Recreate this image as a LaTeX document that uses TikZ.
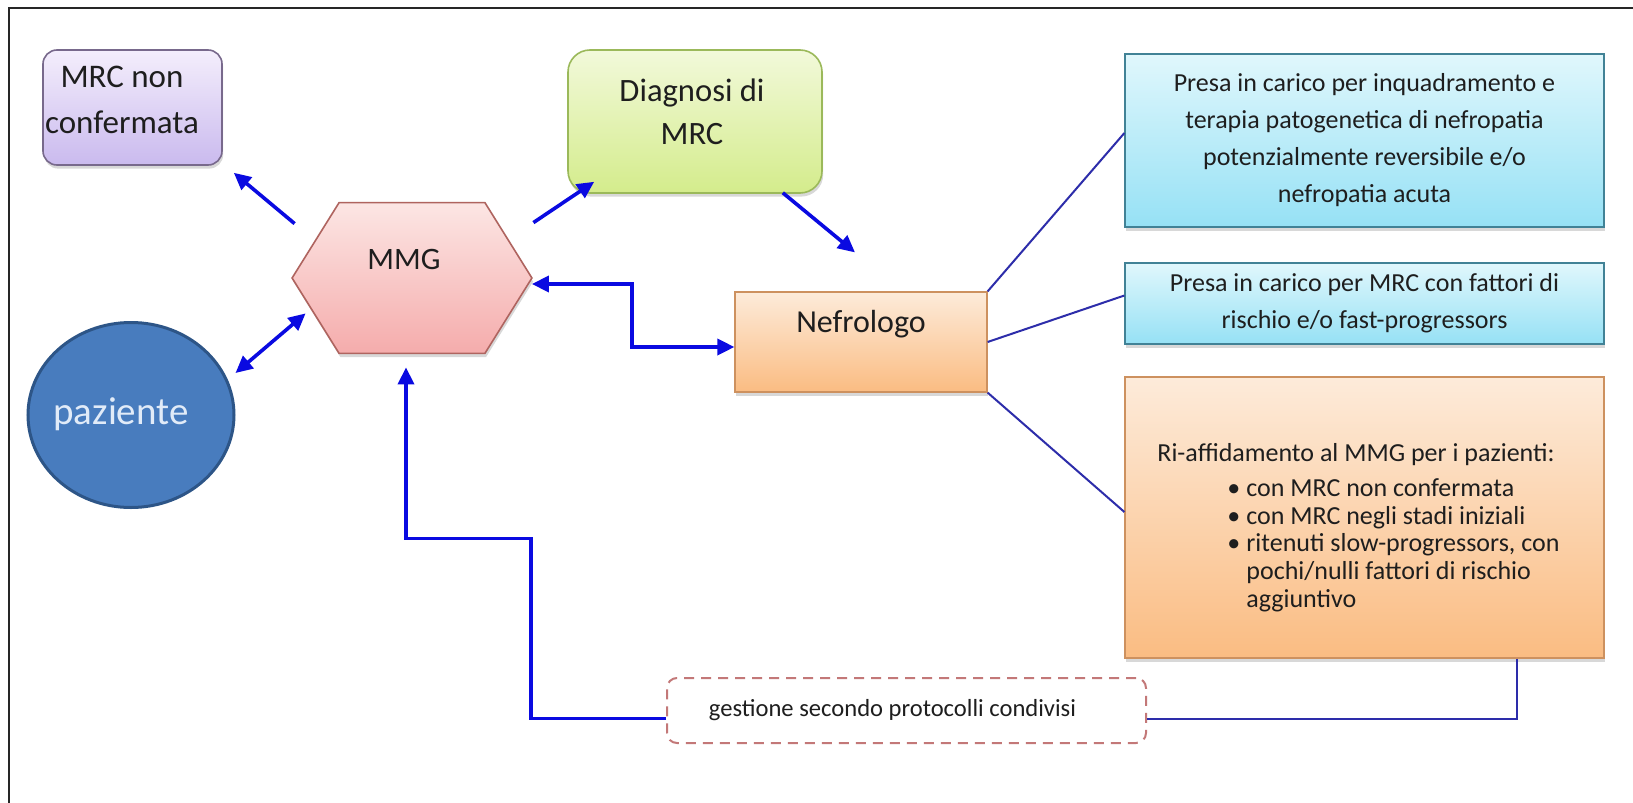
\documentclass[tikz,border=0pt]{standalone}
\usepackage{fontspec}
\setmainfont{Carlito}
\usetikzlibrary{positioning, arrows.meta, shapes.geometric, shadows}

\definecolor{arrowblue}{RGB}{10,10,225}
\definecolor{lineblue}{RGB}{45,45,170}
\definecolor{textdark}{RGB}{30,30,30}
\definecolor{purpletop}{RGB}{244,238,252}
\definecolor{purplebot}{RGB}{202,186,238}
\definecolor{purpleborder}{RGB}{120,105,140}
\definecolor{greentop}{RGB}{242,249,218}
\definecolor{greenbot}{RGB}{212,236,140}
\definecolor{greenborder}{RGB}{155,185,90}
\definecolor{pinktop}{RGB}{252,230,228}
\definecolor{pinkbot}{RGB}{245,172,172}
\definecolor{pinkborder}{RGB}{175,100,95}
\definecolor{pazfill}{RGB}{72,124,190}
\definecolor{pazborder}{RGB}{45,85,135}
\definecolor{paztext}{RGB}{225,235,248}
\definecolor{orangetop}{RGB}{253,235,218}
\definecolor{orangebot}{RGB}{250,188,130}
\definecolor{orangeborder}{RGB}{205,145,95}
\definecolor{cyantop}{RGB}{224,247,252}
\definecolor{cyanbot}{RGB}{150,225,245}
\definecolor{cyanborder}{RGB}{65,130,150}
\definecolor{dashborder}{RGB}{195,120,120}

\newcommand{\bodyfont}{\fontsize{13}{18.5}\selectfont}
\newcommand{\listfont}{\fontsize{13}{13.9}\selectfont}
\newcommand{\blt}{\makebox[9.5pt][l]{\textbullet}}
\newcommand{\bltsp}{\hspace*{9.5pt}}

\begin{document}
\begin{tikzpicture}[x=0.5pt, y=-0.5pt, >={Triangle[length=8.5pt,width=8pt]},
	softshadow/.style={drop shadow={shadow xshift=0.6pt, shadow yshift=-1.8pt, opacity=0.3}},
	purplebox/.style={draw=purpleborder, line width=0.8pt, rounded corners=7pt, top color=purpletop, bottom color=purplebot, softshadow},
	greenbox/.style={draw=greenborder, line width=0.8pt, rounded corners=11pt, top color=greentop, bottom color=greenbot, softshadow},
	orangebox/.style={draw=orangeborder, line width=0.6pt, top color=orangetop, bottom color=orangebot, text=textdark, softshadow},
	cyanbox/.style={draw=cyanborder, line width=0.6pt, top color=cyantop, bottom color=cyanbot, text=textdark, softshadow},
	dashbox/.style={draw=dashborder, dashed, dash pattern=on 5pt off 3.5pt, line width=1pt, rounded corners=5pt, fill=white, text=textdark},
	hexshape/.style={draw=pinkborder, line width=0.8pt, top color=pinktop, bottom color=pinkbot, softshadow},
	bluearrow/.style={draw=arrowblue, line width=1.8pt},
	thinline/.style={draw=lineblue, line width=1pt}]

	\useasboundingbox (0,0) rectangle (1633,803);
	\fill[white] (0,0) rectangle (1633,803);
	\draw[line width=1.3pt, black!85] (9,803) -- (9,8) -- (1633,8);

	% left side
	\node[purplebox, minimum width=89.5pt, minimum height=57.5pt] (mrcnon) at (132.5,107.5) {};
	\node[text=textdark, align=center, font=\fontsize{16.5}{23}\selectfont] (mrcnontext) at (122,100) {MRC non\\confermata};
	\node[ellipse, draw=pazborder, line width=1.5pt, fill=pazfill, minimum width=103pt, minimum height=92.5pt] (paziente) at (131,415) {};
	\node[text=paztext, font=\fontsize{19.5}{22}\selectfont] (paztext) at (121,414) {paziente};

	% MMG hexagon
	\node[minimum width=119.5pt, minimum height=75pt, inner sep=0pt] (mmg) at (412,278) {};
	\draw[hexshape] (mmg.west) -- ([xshift=23.5pt]mmg.north west) -- ([xshift=-23.5pt]mmg.north east) -- (mmg.east) -- ([xshift=-23.5pt]mmg.south east) -- ([xshift=23.5pt]mmg.south west) -- cycle;
	\node[text=textdark, font=\fontsize{15.6}{18}\selectfont] (mmgtext) at (404,259) {MMG};

	\node[greenbox, minimum width=127pt, minimum height=71.5pt] (diagnosi) at (695,121.5) {};
	\node[text=textdark, align=center, font=\fontsize{16.3}{21.5}\selectfont] (diagnositext) at (692,112) {Diagnosi di\\MRC};

	\node[orangebox, minimum width=126pt, minimum height=50pt] (nefrologo) at (861,342) {};
	\node[text=textdark, font=\fontsize{16}{18}\selectfont] (nefrotext) at (861,324) {Nefrologo};

	% right column
	\node[cyanbox, minimum width=239.5pt, minimum height=86.5pt, align=center, font=\bodyfont] (presa1) at (1364.5,140.5) {Presa in carico per inquadramento e\\terapia patogenetica di nefropatia\\potenzialmente reversibile e/o\\nefropatia acuta};
	\node[cyanbox, minimum width=239.5pt, minimum height=40.5pt, align=center, font=\bodyfont] (presa2) at (1364.5,303.5) {Presa in carico per MRC con fattori di\\rischio e/o fast-progressors};
	\node[orangebox, minimum width=239.5pt, minimum height=140.5pt] (riaff) at (1364.5,517.5) {};
	\node[text=textdark, font=\bodyfont] (riaffhead) at (1356,455) {Ri-affidamento al MMG per i pazienti:};
	\node[text=textdark, font=\listfont, align=left, anchor=north west, inner sep=0pt] (riafflist) at (1227,478) {\blt con MRC non confermata\\\blt con MRC negli stadi iniziali\\\blt ritenuti slow-progressors, con\\\bltsp pochi/nulli fattori di rischio\\\bltsp aggiuntivo};

	\node[dashbox, minimum width=239.5pt, minimum height=32.5pt, font=\fontsize{12.3}{15}\selectfont] (gestione) at (906.5,710.5) {gestione secondo protocolli condivisi\hspace*{14pt}};

	% arrows
	\draw[bluearrow, ->] ([xshift=1.25pt,yshift=-10.5pt]mmg.north west) -- ([xshift=5.5pt,yshift=-3.5pt]mrcnon.south east);
	\draw[bluearrow, ->] ([xshift=0.75pt,yshift=-10pt]mmg.north east) -- ([xshift=13.5pt,yshift=6pt]diagnosi.south west);
	\draw[bluearrow, ->] ([xshift=-20pt,yshift=0.5pt]diagnosi.south east) -- ([xshift=-3pt,yshift=19.5pt]nefrologo.north);
	\draw[bluearrow, <->] ([yshift=21pt]paziente.east) -- ([xshift=6.75pt,yshift=20pt]mmg.south west);
	\draw[bluearrow, <->] ([yshift=-3pt]mmg.east) -- ++(100,0) |- ([yshift=-2.5pt]nefrologo.west);
	\draw[bluearrow, ->] ([yshift=-4pt]gestione.west) -- ++(-135,0) -- ++(0,-180) -| ([xshift=-3pt,yshift=-7pt]mmg.south);

	% nefrologo links
	\draw[thinline] (nefrologo.north east) -- ([yshift=3.75pt]presa1.west);
	\draw[thinline] (nefrologo.east) -- ([yshift=4pt]presa2.west);
	\draw[thinline] (nefrologo.south east) -- ([yshift=2.75pt]riaff.west);
	\draw[thinline] ([xshift=76.25pt]riaff.south) |- ([yshift=-4pt]gestione.east);
\end{tikzpicture}
\end{document}
